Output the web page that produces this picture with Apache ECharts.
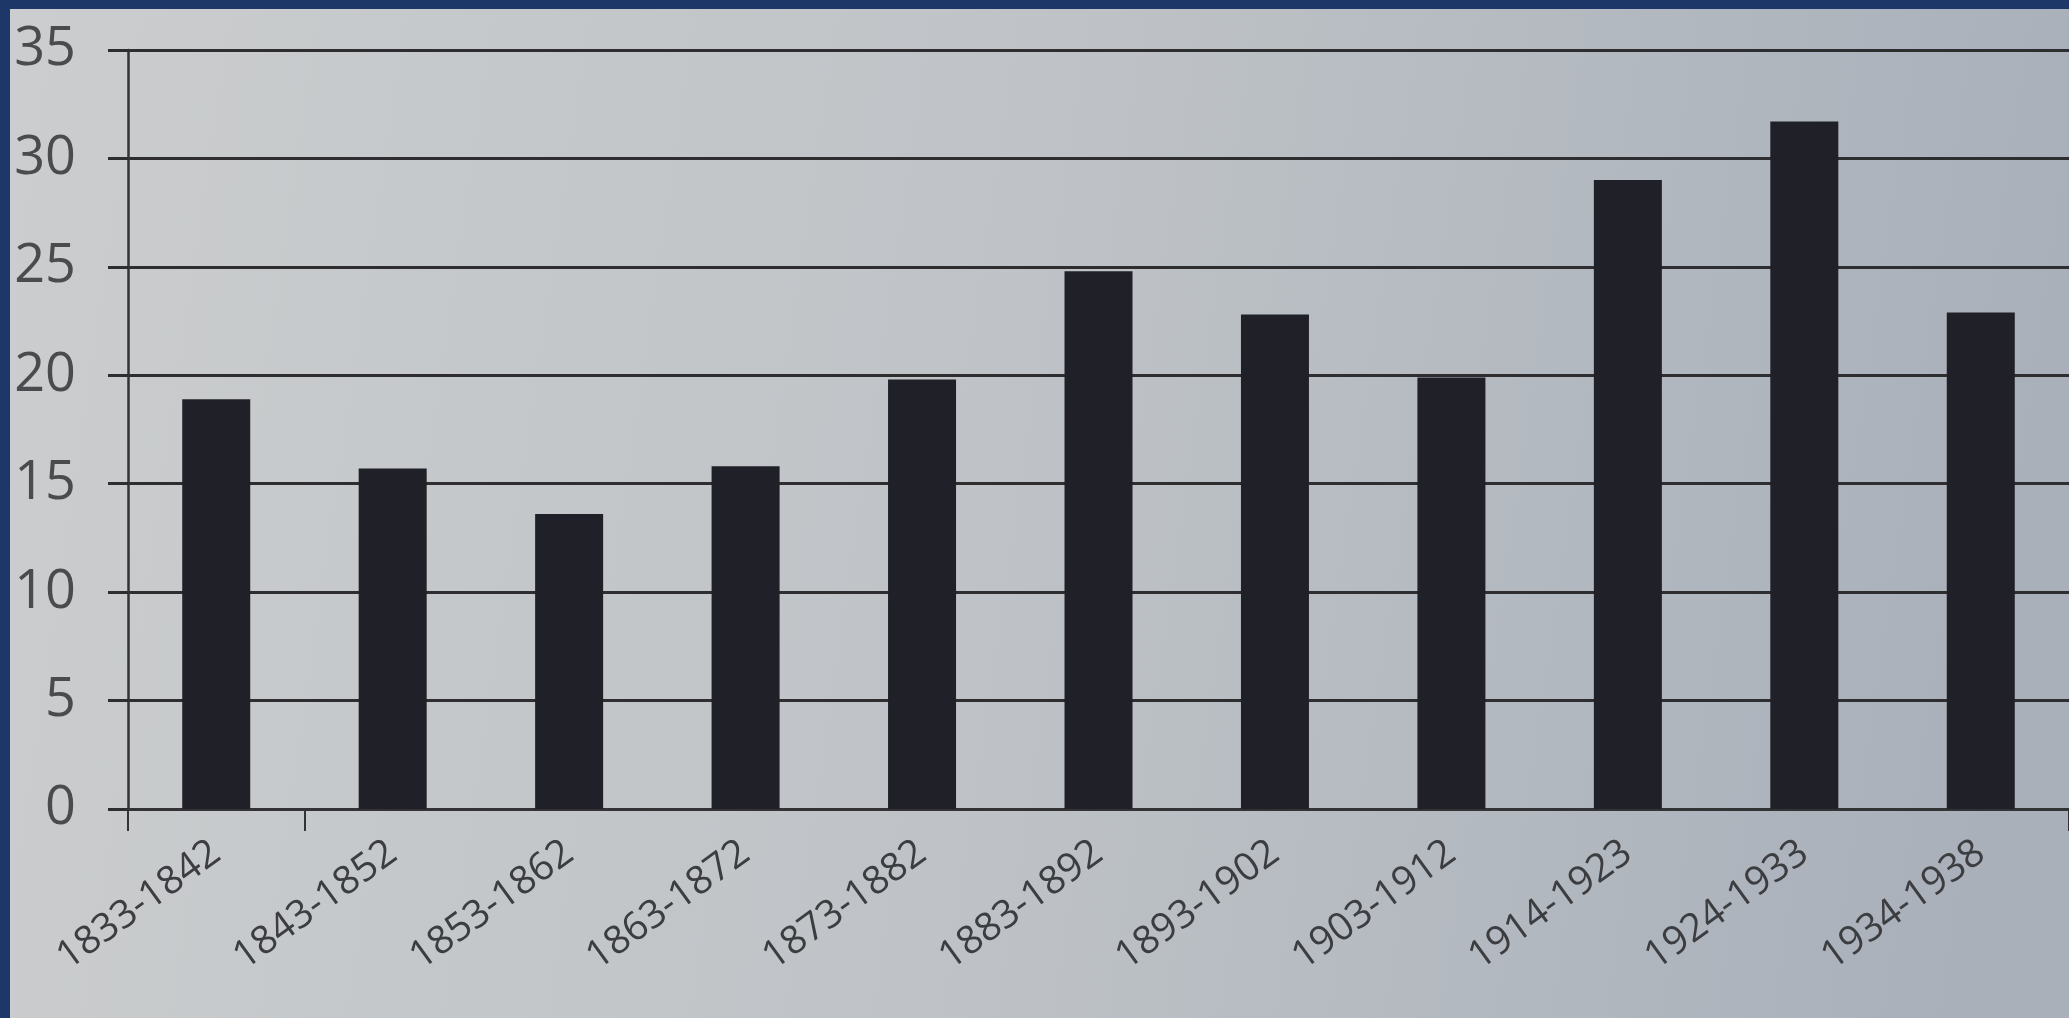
<!DOCTYPE html>
<html>
<head>
<meta charset="utf-8">
<script src="https://cdn.jsdelivr.net/npm/echarts@6/dist/echarts.min.js"></script>
<style>
  html, body { margin: 0; padding: 0; width: 2069px; height: 1018px; background: #1d3769; overflow: hidden; }
  #chart { position: absolute; left: 10px; top: 9px; width: 2059px; height: 1009px; }
</style>
</head>
<body>
<div id="chart"></div>
<script>
const categories = ['1833-1842', '1843-1852', '1853-1862', '1863-1872', '1873-1882', '1883-1892',
                    '1893-1902', '1903-1912', '1914-1923', '1924-1933', '1934-1938'];
const values = [18.9, 15.7, 13.6, 15.8, 19.8, 24.8, 22.8, 19.9, 29.0, 31.7, 22.9];
const yTicks = [0, 5, 10, 15, 20, 25, 30, 35];

const chart = echarts.init(document.getElementById('chart'), null, { renderer: 'canvas' });
const labelFont = '"Open Sans", "Lato", "DejaVu Sans", sans-serif';

chart.setOption({
  animation: false,
  backgroundColor: {
    type: 'linear', x: 0, y: 0, x2: 1, y2: 0.3,
    colorStops: [
      { offset: 0, color: '#cbcdce' },
      { offset: 0.5, color: '#bfc3c7' },
      { offset: 1, color: '#a9b0ba' }
    ]
  },
  grid: { left: 118, right: -12, top: 41, bottom: 209, containLabel: false },
  xAxis: {
    type: 'category',
    data: categories,
    boundaryGap: true,
    axisLine: { show: true, lineStyle: { color: '#333336', width: 3 } },
    axisTick: {
      show: true, length: 22,
      interval: function (i) { return i <= 1; },
      lineStyle: { color: '#333336', width: 2 }
    },
    axisLabel: {
      interval: 0, rotate: 36, margin: 40,
      fontSize: 39, fontWeight: 'normal', color: '#3c3d40',
      fontFamily: labelFont
    },
    splitLine: { show: false }
  },
  yAxis: {
    type: 'value',
    min: yTicks[0], max: yTicks[yTicks.length - 1], interval: yTicks[1] - yTicks[0],
    axisLine: { show: true, lineStyle: { color: '#333336', width: 2.5 } },
    axisTick: { show: true, length: 20, lineStyle: { color: '#2e2e31', width: 3 } },
    axisLabel: {
      margin: 52, fontSize: 54, fontWeight: 'normal', color: '#4a4b4e',
      fontFamily: labelFont
    },
    splitLine: { show: true, lineStyle: { color: '#2e2e31', width: 3 } }
  },
  series: [{
    type: 'bar',
    data: values,
    barWidth: 68,
    itemStyle: { color: '#1f2028' }
  }]
});
</script>
</body>
</html>
